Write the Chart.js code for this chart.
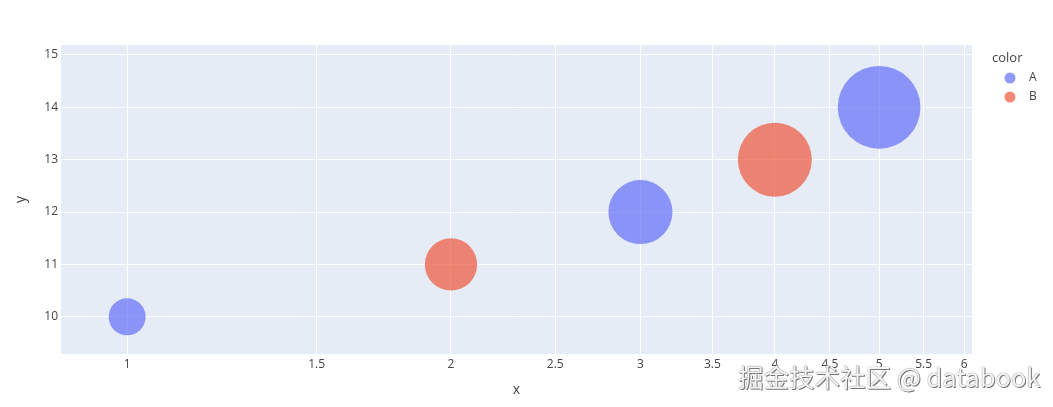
<!DOCTYPE html>
<html>
<head>
<meta charset="utf-8">
<script src="https://cdn.jsdelivr.net/npm/chart.js"></script>
<style>
  body { margin: 0; background: #fff; }
  #wrap { position: relative; width: 1053px; height: 407px; }
  #mark {
    position: absolute; left: 738px; top: 357px;
    font: 25.5px "Noto Sans CJK SC", "Open Sans", sans-serif;
    color: #f4f4f4; white-space: nowrap;
    text-shadow: 1px 1px 0 #777, 0 0 1px #444;
  }
</style>
</head>
<body>
<div id="wrap">
  <canvas id="bubbleChart" width="1053" height="407"></canvas>
  <div id="mark">掘金技术社区 @ databook</div>
</div>
<script>
// values
const categories = ['A', 'B', 'A', 'B', 'A'];
const xValues = [1, 2, 3, 4, 5];
const yValues = [10, 11, 12, 13, 14];
const sizes = [10, 20, 30, 40, 50];

const xTicks = [1, 1.5, 2, 2.5, 3, 3.5, 4, 4.5, 5, 5.5, 6];
const yTicks = [10, 11, 12, 13, 14, 15];

const groups = ['A', 'B'];
const colors = { A: 'rgba(99,110,250,0.7)', B: 'rgba(239,85,59,0.7)' };
const textColor = '#444';
const sizeScale = 5.85; // px of radius per sqrt(size)

const datasets = groups.map(g => ({
  label: g,
  data: categories
    .map((c, i) => c === g ? { x: xValues[i], y: yValues[i], s: sizes[i] } : null)
    .filter(p => p),
  backgroundColor: colors[g],
  borderWidth: 0,
  radius: ctx => Math.sqrt(ctx.raw.s) * sizeScale,
  hoverRadius: 0
}));

// plot background like plotly
const plotBg = {
  id: 'plotBg',
  beforeDraw(chart) {
    const { ctx, chartArea: a } = chart;
    ctx.save();
    ctx.fillStyle = '#E5ECF6';
    ctx.fillRect(a.left, a.top, a.right - a.left, a.bottom - a.top);
    ctx.restore();
  }
};

// legend on the right with a title
const sideLegend = {
  id: 'sideLegend',
  afterDraw(chart) {
    const ctx = chart.ctx;
    ctx.save();
    ctx.textBaseline = 'middle';
    ctx.textAlign = 'left';
    ctx.fillStyle = textColor;
    ctx.font = '13px "Open Sans"';
    ctx.fillText('color', 992, 58);
    ctx.font = '12px "Open Sans"';
    chart.data.datasets.forEach((ds, i) => {
      const y = 78 + i * 19;
      ctx.beginPath();
      ctx.arc(1010, y, 5.5, 0, Math.PI * 2);
      ctx.fillStyle = ds.backgroundColor;
      ctx.fill();
      ctx.fillStyle = textColor;
      ctx.fillText(ds.label, 1029, y);
    });
    ctx.restore();
  }
};

new Chart(document.getElementById('bubbleChart'), {
  type: 'bubble',
  data: { datasets },
  plugins: [plotBg, sideLegend],
  options: {
    responsive: false,
    animation: false,
    layout: { padding: { top: 45, right: 81, left: 0, bottom: 0 } },
    plugins: { legend: { display: false }, tooltip: { enabled: false } },
    scales: {
      x: {
        type: 'logarithmic',
        min: 0.868,
        max: 6.1,
        afterBuildTicks: s => { s.ticks = xTicks.map(v => ({ value: v })); },
        afterFit: s => { s.height = 53; },
        grid: { color: '#fff', lineWidth: 1, drawTicks: false },
        border: { display: false },
        ticks: {
          padding: 3,
          color: textColor,
          font: { family: 'Open Sans', size: 12 },
          maxRotation: 0,
          autoSkip: false,
          callback: v => String(v)
        },
        title: {
          display: true, text: 'x', color: textColor,
          font: { family: 'Open Sans', size: 14 },
          padding: { top: 0, bottom: 9 }
        }
      },
      y: {
        min: 9.29,
        max: 15.19,
        afterBuildTicks: s => { s.ticks = yTicks.map(v => ({ value: v })); },
        afterFit: s => { s.width = 61; },
        grid: { color: '#fff', lineWidth: 1, drawTicks: false },
        border: { display: false },
        ticks: {
          padding: 3,
          color: textColor,
          font: { family: 'Open Sans', size: 12 }
        },
        title: {
          display: true, text: 'y', color: textColor,
          font: { family: 'Open Sans', size: 14 },
          padding: { top: 13, bottom: 0 }
        }
      }
    }
  }
});
</script>
</body>
</html>
